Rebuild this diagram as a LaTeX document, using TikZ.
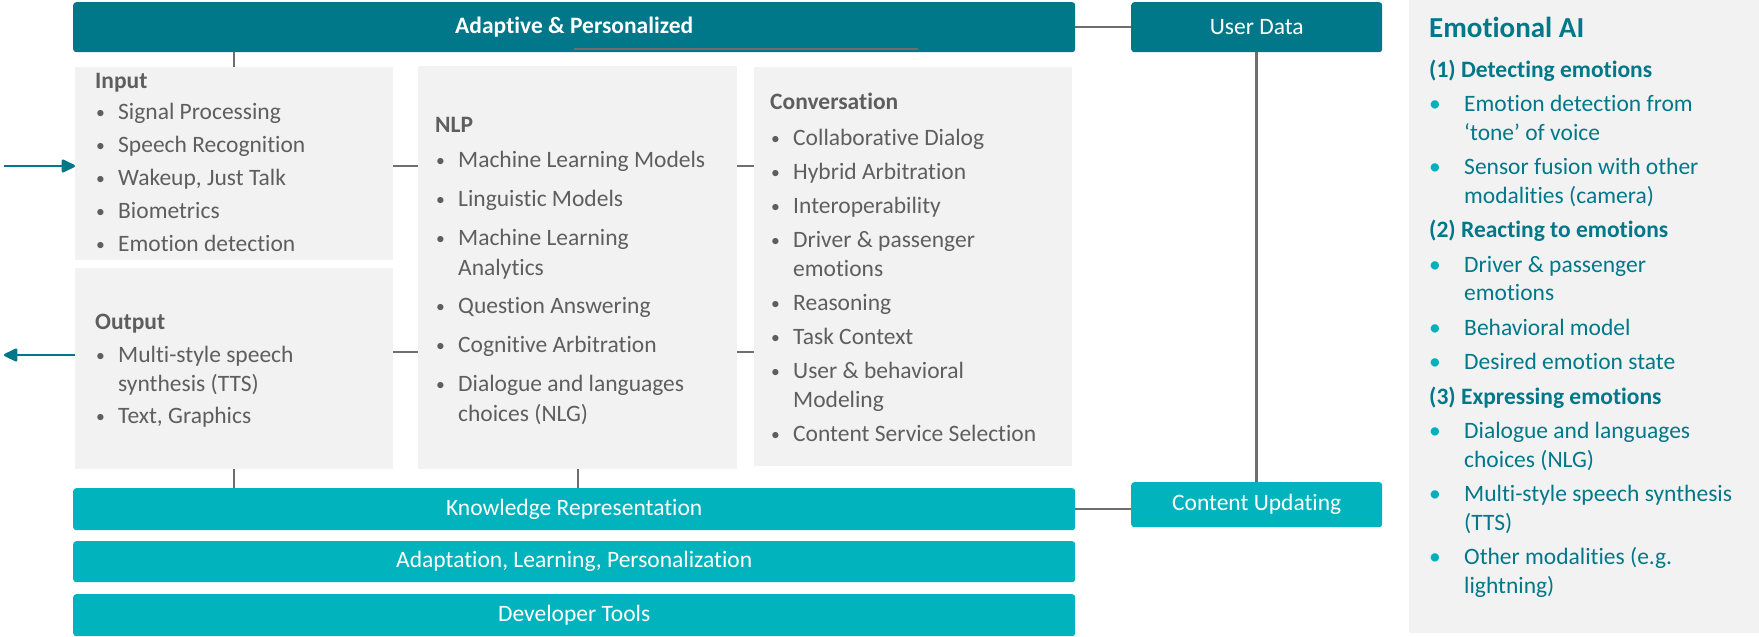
\documentclass[tikz,border=0pt]{standalone}
\usepackage{fontspec}
\setmainfont{Carlito}[Ligatures=NoCommon]
\usetikzlibrary{arrows.meta}

\definecolor{darkteal}{HTML}{01788A}
\definecolor{lightteal}{HTML}{00B3BD}
\definecolor{boxgray}{HTML}{F2F2F2}
\definecolor{textgray}{HTML}{5E5E5E}
\definecolor{linegray}{HTML}{6E6E6E}
\definecolor{dotteal}{HTML}{00B0BA}

\newcommand{\bul}{\makebox[23pt][l]{\hspace*{1pt}\raisebox{1pt}{\scalebox{0.75}{•}}}}
\newcommand{\ind}{\hspace*{23pt}}
\newcommand{\ebul}{\makebox[35pt][l]{\textcolor{dotteal}{•}}}
\newcommand{\eind}{\hspace*{35pt}}

\begin{document}
\begin{tikzpicture}[x=1pt, y=-1pt, >={Stealth[round, inset=0pt, length=15pt, width=14pt]},
    every node/.style={inner sep=0pt, font=\fontsize{23.5}{29}\selectfont},
    darkbar/.style={fill=darkteal, rounded corners=3pt, text=white, anchor=north west},
    lightbar/.style={fill=lightteal, rounded corners=3pt, text=white, anchor=north west},
    graybox/.style={fill=boxgray, anchor=north west},
    boxtext/.style={anchor=north west, align=left, text=textgray, font=\fontsize{23.5}{#1}\selectfont},
    conn/.style={draw=linegray, line width=2.5pt},
    flow/.style={->, draw=darkteal, line width=2.5pt}]
    \useasboundingbox (0,0) rectangle (1759,637);

    % Define bars
    \node[darkbar, minimum width=1002pt, minimum height=50pt] (adapt) at (73,2) {\textbf{Adaptive \& Personalized}};
    \node[darkbar, minimum width=251pt, minimum height=50pt] (userdata) at (1131,2) {User Data};
    \node[lightbar, minimum width=1002pt, minimum height=42pt] (know) at (73,488) {Knowledge Representation};
    \node[lightbar, minimum width=1002pt, minimum height=41pt] (learn) at (73,541) {Adaptation, Learning, Personalization};
    \node[lightbar, minimum width=1002pt, minimum height=42pt] (devtools) at (73,594) {Developer Tools};
    \node[lightbar, minimum width=251pt, minimum height=45pt] (update) at (1131,482) {Content Updating};

    % Define gray boxes
    \node[graybox, minimum width=318pt, minimum height=193pt] (input) at (75,67) {};
    \node[graybox, minimum width=318pt, minimum height=201pt] (output) at (75,268) {};
    \node[graybox, minimum width=319pt, minimum height=403pt] (nlp) at (418,66) {};
    \node[graybox, minimum width=318pt, minimum height=399pt] (conv) at (754,67) {};
    \node[graybox, minimum width=350pt, minimum height=633pt] (emopanel) at (1409,0) {};

    % Box texts
    \node[boxtext=33] (inputtxt) at (95,73.5) {\textbf{Input}\\[-2pt]
        \bul Signal Processing\\ \bul Speech Recognition\\ \bul Wakeup, Just Talk\\
        \bul Biometrics\\ \bul Emotion detection};
    \node[boxtext=29] (outputtxt) at (95,314) {\textbf{Output}\\[4pt]
        \bul Multi-style speech\\ \ind synthesis (TTS)\\[3pt] \bul Text, Graphics};
    \node[boxtext=30] (nlptxt) at (435,117) {\textbf{NLP}\\[5pt]
        \bul Machine Learning Models\\[9pt] \bul Linguistic Models\\[9pt]
        \bul Machine Learning\\ \ind Analytics\\[8pt] \bul Question Answering\\[9pt]
        \bul Cognitive Arbitration\\[9pt] \bul Dialogue and languages\\ \ind choices (NLG)};
    \node[boxtext=29] (convtxt) at (770,93) {\textbf{Conversation}\\[7pt]
        \bul Collaborative Dialog\\[5pt] \bul Hybrid Arbitration\\[5pt] \bul Interoperability\\[5pt]
        \bul Driver \& passenger\\ \ind emotions\\[5pt] \bul Reasoning\\[5pt] \bul Task Context\\[5pt]
        \bul User \& behavioral\\ \ind Modeling\\[5pt] \bul Content Service Selection};
    \node[boxtext=28.5, text=darkteal] (emotxt) at (1429,17) {{\fontsize{29}{34}\selectfont\bfseries Emotional AI}\\[11pt]
        \textbf{(1) Detecting emotions}\\[6pt]
        \ebul Emotion detection from\\ \eind ‘tone’ of voice\\[6pt]
        \ebul Sensor fusion with other\\ \eind modalities (camera)\\[6pt]
        \textbf{(2) Reacting to emotions}\\[6pt]
        \ebul Driver \& passenger\\ \eind emotions\\[6pt]
        \ebul Behavioral model\\[6pt]
        \ebul Desired emotion state\\[6pt]
        \textbf{(3) Expressing emotions}\\[6pt]
        \ebul Dialogue and languages\\ \eind choices (NLG)\\[6pt]
        \ebul Multi-style speech synthesis\\ \eind (TTS)\\[6pt]
        \ebul Other modalities (e.g.\\ \eind lightning)};

    % Free ends
    \coordinate (inend) at (4,166);
    \coordinate (outend) at (4,355);
    \coordinate (outlink) at (0,352);

    % Draw connectors
    \draw[conn] (adapt.east) -- (userdata.west); % Adaptive -> User Data
    \draw[conn] (userdata.south) -- (update.north); % User Data -> Content Updating
    \draw[conn] (know.east) -- (know.east -| update.west); % Knowledge -> Content Updating
    \draw[conn, line width=2pt] (input.north) -- (input.north |- adapt.south); % Adaptive -> Input
    \draw[conn, line width=2pt] (input.east |- inend) -- (nlp.west |- inend); % Input -> NLP
    \draw[conn, line width=2pt] (output.east |- outlink) -- (nlp.west |- outlink); % Output -> NLP
    \draw[conn, line width=2pt] (nlp.east |- inend) -- (conv.west |- inend); % NLP -> Conversation
    \draw[conn, line width=2pt] (nlp.east |- outlink) -- (conv.west |- outlink); % NLP -> Conversation
    \draw[conn, line width=2pt] (output.south) -- (output.south |- know.north); % Output -> Knowledge
    \draw[conn, line width=2pt] (nlp.south) -- (nlp.south |- know.north); % NLP -> Knowledge
    \draw[conn, line width=2pt] (574,49) -- (918,49); % line under title
    \draw[flow] (inend) -- (input.west |- inend); % into Input
    \draw[flow] (output.west |- outend) -- (outend); % out of Output
\end{tikzpicture}
\end{document}
